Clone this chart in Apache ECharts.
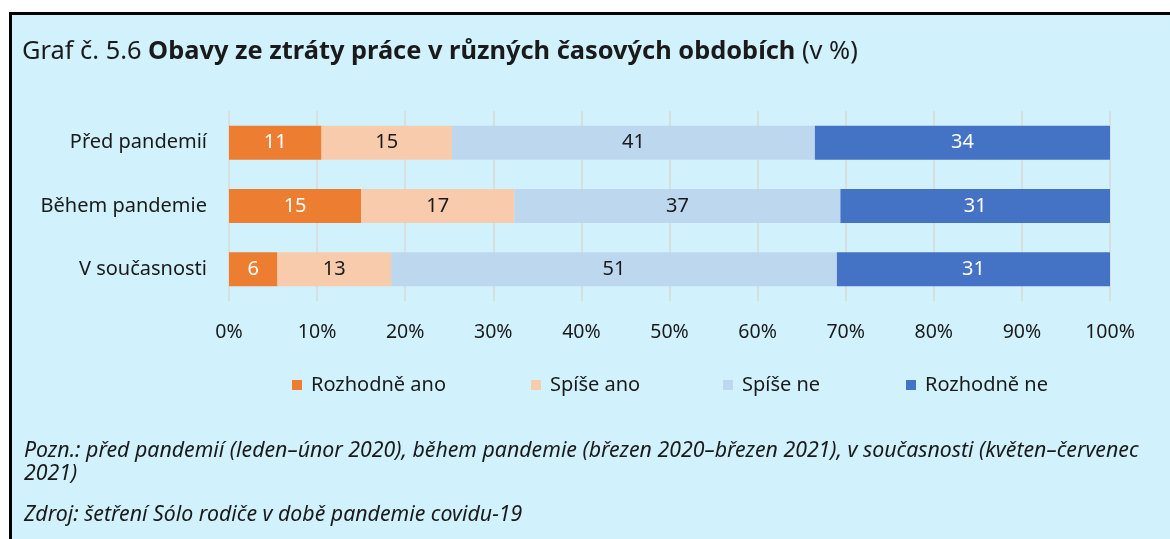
<!DOCTYPE html>
<html>
<head>
<meta charset="utf-8">
<script src="https://cdn.jsdelivr.net/npm/echarts@6/dist/echarts.min.js"></script>
<style>
  html, body { margin: 0; padding: 0; background: #ffffff; }
  #frame { position: absolute; left: 9px; top: 12px; width: 1200px; height: 600px;
           background: #D1F1FC; border-left: 3px solid #000; border-top: 3px solid #000; box-sizing: border-box; }
  #chart { position: absolute; left: 0; top: 0; width: 1170px; height: 539px; }
</style>
</head>
<body>
<div id="frame"></div>
<div id="chart"></div>
<script>
const categories = ['Před pandemií', 'Během pandemie', 'V současnosti'];
const seriesNames = ['Rozhodně ano', 'Spíše ano', 'Spíše ne', 'Rozhodně ne'];
const rozhodneAno = [10.5, 15.0, 5.5];
const spiseAno = [14.8, 17.4, 12.9];
const spiseNe = [41.2, 37.0, 50.6];
const rozhodneNe = [33.5, 30.6, 31.0];
const xTicks = [0, 10, 20, 30, 40, 50, 60, 70, 80, 90, 100];
const colors = ['#ED7D31', '#F8CBAD', '#BDD7EE', '#4472C4'];
const labelColors = ['#ffffff', '#1a1a1a', '#1a1a1a', '#ffffff'];
const noteLines = [
  'Pozn.: před pandemií (leden–únor 2020), během pandemie (březen 2020–březen 2021), v současnosti (květen–červenec',
  '2021)',
  'Zdroj: šetření Sólo rodiče v době pandemie covidu-19'
];
const FONT = '"Noto Sans", "Open Sans", sans-serif';

const chart = echarts.init(document.getElementById('chart'), null, { renderer: 'canvas' });
const allData = [rozhodneAno, spiseAno, spiseNe, rozhodneNe];
const legendX = [292, 531, 723, 906];

const option = {
  backgroundColor: 'transparent',
  animation: false,
  textStyle: { fontFamily: FONT },
  title: {
    left: 17, top: 34,
    text: '{n|Graf č. 5.6 }{b|Obavy ze ztráty práce v různých časových obdobích}{n| (v %)}',
    textStyle: {
      rich: {
        n: { fontFamily: FONT, fontSize: 25.4, fontWeight: 'normal', color: '#1a1a1a' },
        b: { fontFamily: FONT, fontSize: 25.4, fontWeight: 'bold', color: '#1a1a1a' }
      }
    }
  },
  legend: seriesNames.map((n, i) => ({
    data: [n], left: legendX[i], top: 375, padding: 0,
    icon: 'rect', itemWidth: 10, itemHeight: 10, itemGap: 0,
    textStyle: { fontFamily: FONT, fontSize: 20, color: '#1a1a1a', padding: [0, 0, 0, 4] }
  })),
  grid: { left: 229, right: 60, top: 111, height: 190, containLabel: false },
  xAxis: {
    type: 'value', min: xTicks[0], max: xTicks[xTicks.length - 1], interval: xTicks[1] - xTicks[0],
    axisLine: { show: false }, axisTick: { show: false },
    splitLine: { show: true, lineStyle: { color: '#D9D9D9', width: 1.5 } },
    axisLabel: { formatter: '{value}%', fontFamily: FONT, fontSize: 19.5, color: '#1a1a1a', margin: 21 }
  },
  yAxis: {
    type: 'category', data: categories, inverse: true,
    axisLine: { show: false }, axisTick: { show: false },
    axisLabel: { fontFamily: FONT, fontSize: 20, color: '#1a1a1a', margin: 22 }
  },
  graphic: noteLines.map((t, i) => ({
    type: 'text', left: 24, top: [440, 463, 504][i],
    style: { text: t, font: 'italic 21.3px ' + FONT, fill: '#1a1a1a' }
  })),
  series: seriesNames.map((n, i) => ({
    name: n, type: 'bar', stack: 'total', barWidth: 34,
    data: allData[i],
    itemStyle: { color: colors[i] },
    label: {
      show: true, position: 'inside', color: labelColors[i],
      fontFamily: FONT, fontSize: 20,
      formatter: p => String(Math.round(p.value))
    }
  }))
};
chart.setOption(option);
</script>
</body>
</html>
